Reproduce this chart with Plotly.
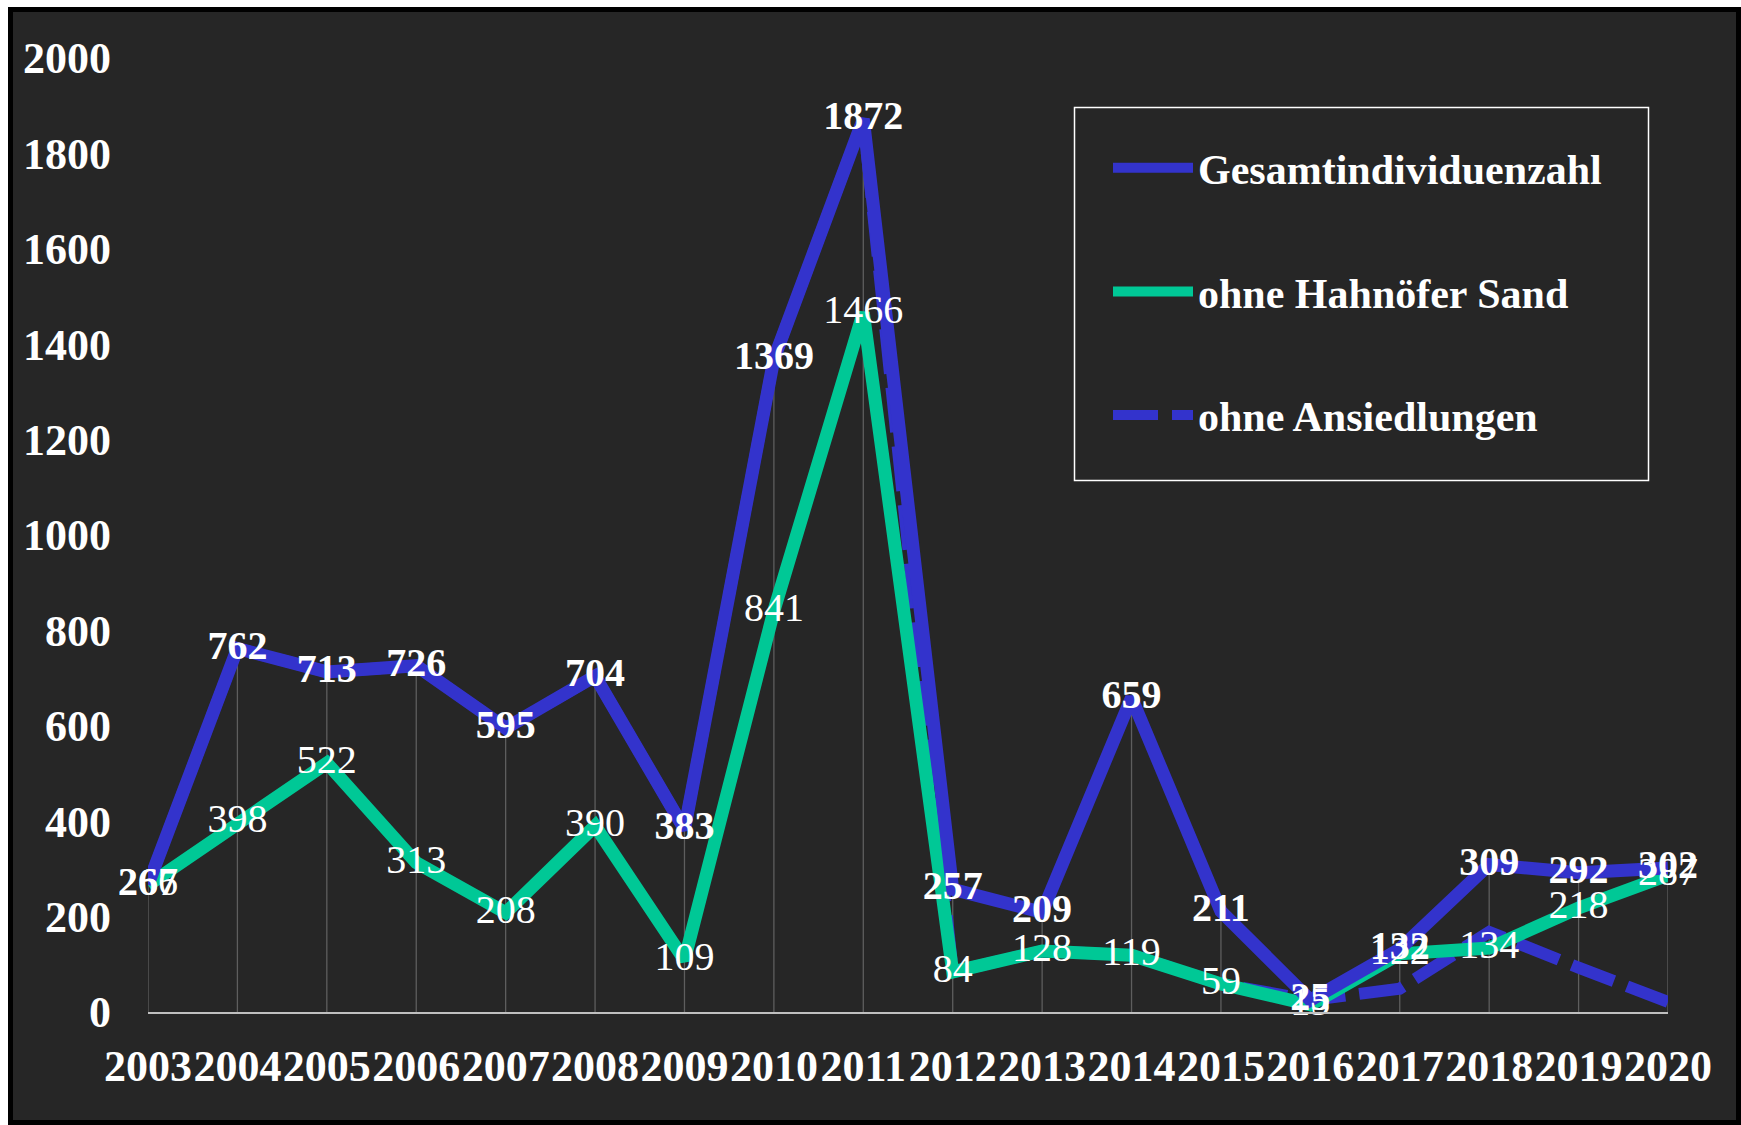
import plotly.graph_objects as go

years = [2003, 2004, 2005, 2006, 2007, 2008, 2009, 2010, 2011,
         2012, 2013, 2014, 2015, 2016, 2017, 2018, 2019, 2020]
gesamt = [267, 762, 713, 726, 595, 704, 383, 1369, 1872,
          257, 209, 659, 211, 25, 132, 309, 292, 302]
ohne_hahnoefer = [266, 398, 522, 313, 208, 390, 109, 841, 1466,
                  84, 128, 119, 59, 15, 122, 134, 218, 287]
ohne_ansiedlungen = [267, 762, 713, 726, 595, 704, 383, 1369, 1872,
                     84, 128, 119, 59, 25, 49, 168, 93, 21]
y_ticks = [0, 200, 400, 600, 800, 1000, 1200, 1400, 1600, 1800, 2000]

names = ["Gesamtindividuenzahl", "ohne Hahnöfer Sand", "ohne Ansiedlungen"]
BLUE = "#3333cc"
GREEN = "#00c896"
BG = "#262626"
FONT = "Liberation Serif, Times New Roman, serif"

drop_top = [max(a, b, c) for a, b, c in zip(gesamt, ohne_hahnoefer, ohne_ansiedlungen)]

fig = go.Figure()

# drop lines from the highest series down to the axis
fig.add_trace(go.Scatter(
    x=years, y=drop_top, mode="markers",
    marker=dict(size=1, color="rgba(0,0,0,0)"),
    error_y=dict(type="data", symmetric=False, array=[0] * len(years),
                 arrayminus=drop_top, width=0, thickness=1.3, color="#5e5e5e"),
    showlegend=False, hoverinfo="skip"))

fig.add_trace(go.Scatter(
    x=years, y=ohne_ansiedlungen, mode="lines", name=names[2],
    line=dict(color=BLUE, width=12, dash="45px,14px"),
    legendgroup="c", legendrank=3))

fig.add_trace(go.Scatter(
    x=years, y=ohne_hahnoefer, mode="lines", name=names[1],
    line=dict(color=GREEN, width=13),
    legendgroup="b", legendrank=2))

fig.add_trace(go.Scatter(
    x=years, y=gesamt, mode="lines", name=names[0],
    line=dict(color=BLUE, width=13),
    legendgroup="a", legendrank=1))

# value labels on top
fig.add_trace(go.Scatter(
    x=years, y=ohne_hahnoefer, mode="text", text=[str(v) for v in ohne_hahnoefer],
    textposition="middle center",
    textfont=dict(family=FONT, size=40, color="white"),
    showlegend=False, hoverinfo="skip", cliponaxis=False))
fig.add_trace(go.Scatter(
    x=years, y=gesamt, mode="text", text=[f"<b>{v}</b>" for v in gesamt],
    textposition="middle center",
    textfont=dict(family=FONT, size=40, color="white"),
    showlegend=False, hoverinfo="skip", cliponaxis=False))

W, H = 1741, 1125
L, R, T, B = 148, 73, 58, 113
pw, ph = W - L - R, H - T - B


def px_x(p):
    return (p - L) / pw


def px_y(p):
    return (H - B - p) / ph


fig.update_layout(
    width=W, height=H,
    margin=dict(l=L, r=R, t=T, b=B, autoexpand=False),
    paper_bgcolor="white",
    plot_bgcolor=BG,
    font=dict(family=FONT, color="white"),
    showlegend=True,
    legend=dict(
        x=px_x(1108), y=px_y(134), xanchor="left", yanchor="top",
        bgcolor="rgba(0,0,0,0)", borderwidth=0,
        font=dict(family=FONT, size=42, color="white", weight="bold"),
        traceorder="grouped", tracegroupgap=66,
        itemwidth=80,
    ),
    xaxis=dict(
        range=[years[0], years[-1]], tickmode="array", tickvals=years,
        ticktext=[f"<b>{y}</b>" for y in years],
        tickfont=dict(family=FONT, size=44, color="white"),
        tickangle=0, automargin=False,
        showgrid=False, zeroline=False,
        showline=True, linecolor="#bfbfbf", linewidth=2,
        ticks="", ticklabelstandoff=14,
    ),
    yaxis=dict(
        range=[0, 2000], tickmode="array", tickvals=y_ticks,
        ticktext=[f"<b>{v}</b>" for v in y_ticks],
        tickfont=dict(family=FONT, size=44, color="white"),
        automargin=False,
        showgrid=False, zeroline=False, showline=False,
        ticks="", ticklabelstandoff=36,
    ),
    shapes=[
        dict(type="rect", xref="paper", yref="paper", layer="below",
             x0=px_x(10.5), x1=px_x(1738.5), y0=px_y(1122.5), y1=px_y(9.5),
             fillcolor=BG, line=dict(color="black", width=5)),
        dict(type="rect", xref="paper", yref="paper", layer="above",
             x0=px_x(1074.5), x1=px_x(1648.5), y0=px_y(480.5), y1=px_y(107.5),
             fillcolor=BG, line=dict(color="white", width=1.5)),
    ],
)

fig.write_html("out.html")
